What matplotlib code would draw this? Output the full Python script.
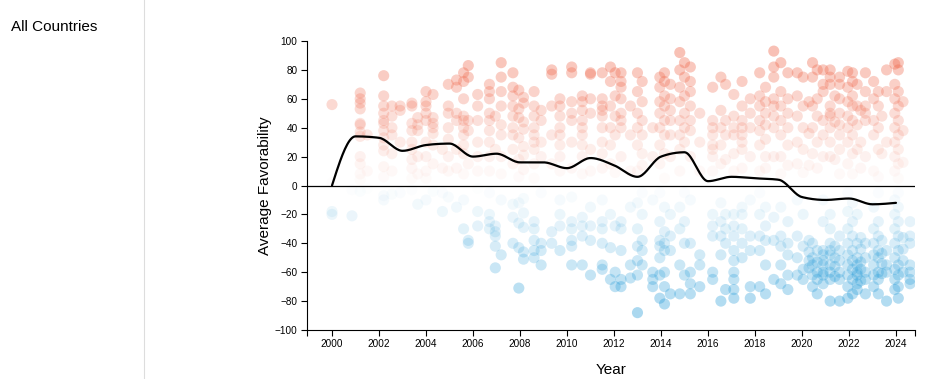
import numpy as np
import matplotlib
matplotlib.use("Agg")
import matplotlib.pyplot as plt
from matplotlib.lines import Line2D

plt.rcParams['font.family'] = ['Liberation Sans', 'DejaVu Sans']

# survey dates (fractional years) and country scores taken on each date
survey_dates = [
    2000.0, 2000.85, 2001.2, 2001.5, 2002.2, 2002.55, 2002.9, 2003.4, 2003.65,
    2004.0, 2004.3, 2004.7, 2004.95, 2005.3, 2005.6, 2005.8, 2006.2, 2006.7,
    2006.95, 2007.2, 2007.7, 2007.95, 2008.15, 2008.6, 2008.9, 2009.35, 2009.7,
    2010.2, 2010.65, 2011.0, 2011.5, 2011.85, 2012.05, 2012.3, 2012.7, 2013.0,
    2013.2, 2013.65, 2013.95, 2014.15, 2014.4, 2014.8, 2015.0, 2015.25, 2015.65,
    2016.2, 2016.55, 2016.75, 2017.1, 2017.45, 2017.8, 2018.2, 2018.45, 2018.8,
    2019.1, 2019.4, 2019.8, 2020.05, 2020.3, 2020.45, 2020.65, 2020.9, 2021.2,
    2021.4, 2021.6, 2021.95, 2022.15, 2022.35, 2022.5, 2022.7, 2023.05, 2023.25,
    2023.4, 2023.6, 2023.95, 2024.1, 2024.3, 2024.6,
]
survey_scores = [
    [56, 2, -18, -20],
    [-21, -3],
    [64, 60, 57, 53, 43, 42, 37, 34, 20, 15, 8, 4, -4],
    [35, 10, -2],
    [76, 62, 55, 50, 45, 43, 38, 33, 28, 24, 13, 6, -7, -10],
    [55, 48, 40, 35, 22, 10, -6],
    [55, 52, 30, -5],
    [57, 55, 43, 38, 30, 25, 18, 12, 5, -3],
    [47, 42, 38, 20, 8, -13],
    [65, 58, 55, 50, 45, 30, 20, 10, 5, -10],
    [63, 47, 43, 40, 36, 28, 15, -4],
    [25, 12, -5, -18],
    [70, 55, 50, 40, 32, 20, 10, -8],
    [73, 68, 50, 45, 25, 12, -15],
    [78, 72, 60, 48, 45, 40, 35, 28, 22, 8, -10, -30],
    [83, 75, 45, 38, 15, -38, -40],
    [63, 55, 45, 30, 20, 10, -2, -18, -28],
    [70, 65, 60, 50, 45, 38, 30, 20, 10, -5, -20, -25, -30],
    [48, 25, -28, -32, -35, -42, -57],
    [85, 75, 65, 55, 42, 35, 20, 8, -10, -48],
    [78, 68, 62, 55, 48, 40, 35, 25, 15, -13, -22, -40],
    [66, 53, 47, 33, 18, 6, -12, -26, -43, -71],
    [61, 57, 44, 39, 27, 21, 11, -9, -19, -29, -46, -51],
    [65, 55, 48, 40, 35, 30, 25, 15, 5, -25, -30, -38, -45, -50],
    [52, 45, 30, 20, -5, -40, -45, -55],
    [80, 77, 55, 35, 15, -32, -40],
    [60, 55, 48, 40, 35, 28, 20, 10, -10, -20, -28, -45],
    [82, 78, 58, 50, 45, 30, 12, -8, -25, -30, -38, -42, -55],
    [62, 58, 52, 45, 40, 35, 28, 20, 8, -22, -28, -35, -55],
    [78, 77, 60, 50, 25, 10, -15, -28, -38, -62],
    [78, 60, 55, 52, 48, 40, 30, 22, 12, -10, -25, -30, -40, -55, -58],
    [82, 72, 55, 40, 28, 15, -20, -43, -65],
    [78, 62, 48, 35, 9, -28, -60, -70],
    [78, 72, 68, 60, 50, 45, 40, 20, -25, -30, -45, -65, -70],
    [55, 35, 10, -15, -55, -64],
    [78, 65, 50, 40, 28, 10, -12, -30, -42, -52, -62, -88],
    [72, 58, 45, 35, 22, 14, -5, -20, -38, -45, -55],
    [40, 20, -10, -60, -65, -70],
    [75, 68, 58, 50, 40, 28, 15, -5, -25, -38, -42, -50, -62, -78],
    [78, 72, 62, 55, 45, 35, 22, 5, -15, -32, -40, -45, -60, -70, -82],
    [70, 60, 52, 45, 35, 20, -20, -35, -45, -75],
    [92, 80, 68, 58, 45, 35, 25, 10, -15, -30, -55, -75],
    [85, 75, 62, 50, 40, 30, -5, -25, -40, -62],
    [82, 72, 65, 55, 45, 38, 20, -10, -40, -60, -68, -75],
    [50, 30, 10, -48, -55, -70],
    [68, 45, 40, 35, 28, 25, 20, 10, -20, -28, -35, -60, -65],
    [75, 52, 40, 28, 15, -12, -25, -35, -48, -80],
    [70, 45, 35, 18, -20, -30, -40, -72],
    [63, 48, 40, 35, 22, 10, -20, -28, -35, -45, -52, -60, -65, -72, -78],
    [72, 55, 45, 40, 35, 30, 25, 12, -15, -20, -30, -40, -50],
    [60, 50, 40, 20, -10, -35, -45, -70, -78],
    [78, 62, 55, 45, 38, 28, 10, -5, -20, -35, -45, -70],
    [68, 58, 50, 42, 32, 20, 12, -15, -28, -38, -55, -75],
    [93, 82, 75, 60, 55, 48, 40, 20, -22, -38, -65],
    [85, 65, 55, 45, 35, 20, 8, -15, -35, -42, -55, -68],
    [78, 60, 50, 40, 28, 14, -25, -40, -48, -62, -72],
    [78, 62, 48, 30, 15, -10, -35, -50, -62],
    [75, 55, 40, 25, 9, -20, -42, -58, -65],
    [58, 36, 14, -38, -46, -52, -57],
    [85, 75, 55, 40, 22, -40, -50, -55, -62, -70],
    [80, 60, 48, 30, 12, -45, -53, -60, -65, -75],
    [80, 70, 65, 45, 35, 20, -10, -25, -45, -48, -52, -55, -60, -62, -68],
    [80, 75, 70, 55, 50, 48, 40, 30, 20, -20, -30, -40, -45, -48, -55, -60, -65, -80],
    [62, 44, 18, -42, -50, -56, -63],
    [75, 70, 60, 50, 42, 35, 25, 8, -35, -45, -52, -60, -65, -80],
    [79, 68, 58, 48, 40, 30, 15, -5, -18, -30, -40, -48, -55, -62, -70, -78],
    [78, 72, 62, 55, 45, 35, 22, 8, -12, -25, -35, -45, -52, -58, -65, -75],
    [70, 55, 42, 25, -20, -40, -50, -55, -60, -62, -68, -72],
    [52, 30, 12, -36, -44, -53, -58, -66],
    [78, 65, 55, 50, 45, 20, -40, -50, -60, -65, -75],
    [72, 60, 45, 35, 10, -15, -30, -40, -48, -55, -62, -70],
    [65, 55, 40, 25, 6, -5, -25, -35, -45, -50, -60, -65, -75],
    [48, 22, -38, -47, -54, -61],
    [80, 65, 30, -45, -55, -60, -80],
    [84, 70, 60, 50, 40, 30, 20, 10, -10, -20, -30, -40, -50, -58, -65, -72],
    [85, 80, 65, 55, 45, 35, 25, 15, 5, -5, -15, -25, -35, -45, -55, -62, -70, -78],
    [58, 38, 16, -36, -44, -52, -60],
    [-25, -35, -40, -55, -60, -65, -68],
]

# yearly average favorability (black line)
avg_years = list(range(2000, 2025))
avg_values = [0, 34, 33, 24, 28, 29, 20, 22, 16, 16, 12, 19, 14, 6, 20, 23,
              3, 6, 5, 4, -8, -10, -9, -13, -12]

RED = np.array([0.94, 0.42, 0.31])
BLUE = np.array([0.17, 0.62, 0.85])


def monotone_x(x, y, n=20):
    # same idea as d3.curveMonotoneX
    x = np.asarray(x, float)
    y = np.asarray(y, float)
    h = np.diff(x)
    s = np.diff(y) / h
    t = np.zeros_like(y)
    for i in range(1, len(x) - 1):
        p = (s[i - 1] * h[i] + s[i] * h[i - 1]) / (h[i - 1] + h[i])
        t[i] = (np.sign(s[i - 1]) + np.sign(s[i])) * min(abs(s[i - 1]), abs(s[i]), 0.5 * abs(p))
    t[0] = (3 * s[0] - t[1]) / 2
    t[-1] = (3 * s[-1] - t[-2]) / 2
    xs, ys = [], []
    for i in range(len(x) - 1):
        u = np.linspace(0, 1, n, endpoint=False)
        h00 = 2 * u**3 - 3 * u**2 + 1
        h10 = u**3 - 2 * u**2 + u
        h01 = -2 * u**3 + 3 * u**2
        h11 = u**3 - u**2
        xs.append(x[i] + u * h[i])
        ys.append(h00 * y[i] + h10 * h[i] * t[i] + h01 * y[i + 1] + h11 * h[i] * t[i + 1])
    xs.append([x[-1]])
    ys.append([y[-1]])
    return np.concatenate(xs), np.concatenate(ys)


fig = plt.figure(figsize=(9.41, 3.79), dpi=100)
ax = fig.add_axes([307 / 941, 49 / 379, 608 / 941, 289 / 379])

px, py = [], []
for d, vals in zip(survey_dates, survey_scores):
    for v in vals:
        px.append(d)
        py.append(v)
px = np.array(px)
py = np.array(py)
colors = np.zeros((len(py), 4))
colors[:, :3] = np.where(py[:, None] >= 0, RED, BLUE)
colors[:, 3] = np.clip(np.abs(py) / 100, 0, 1) * 0.45
ax.scatter(px, py, s=64, c=colors, edgecolors='none', zorder=2)

x0, x1 = 1998.936, 2024.81
ax.axhline(0, color='black', lw=0.9, zorder=3)
lx, ly = monotone_x(avg_years, avg_values)
ax.plot(lx, ly, color='black', lw=1.6, zorder=4, solid_capstyle='round')

ax.set_xlim(x0, x1)
ax.set_ylim(-100, 100)
ax.set_xticks(range(2000, 2025, 2))
ax.set_xticks([x0, x1], minor=True)
ax.set_yticks(range(-100, 101, 20))
ax.set_yticklabels(['\u2212' + str(-v) if v < 0 else str(v) for v in range(-100, 101, 20)])
for sp in ['top', 'right']:
    ax.spines[sp].set_visible(False)
for sp in ['left', 'bottom']:
    ax.spines[sp].set_linewidth(0.8)
ax.tick_params(which='both', length=4.3, width=0.8, labelsize=7.2, pad=2.5)

ax.set_xlabel('Year', fontsize=11)
ax.set_ylabel('Average Favorability', fontsize=11)
ax.xaxis.set_label_coords(0.5, -0.115)
ax.yaxis.set_label_coords(-0.058, 0.5)

fig.text(11 / 941, 1 - 27 / 379, 'All Countries', fontsize=11, va='center', ha='left')
fig.add_artist(Line2D([143.5 / 941, 143.5 / 941], [0, 1], color='#dddddd', lw=0.8))

fig.savefig('out.png', dpi=100)
